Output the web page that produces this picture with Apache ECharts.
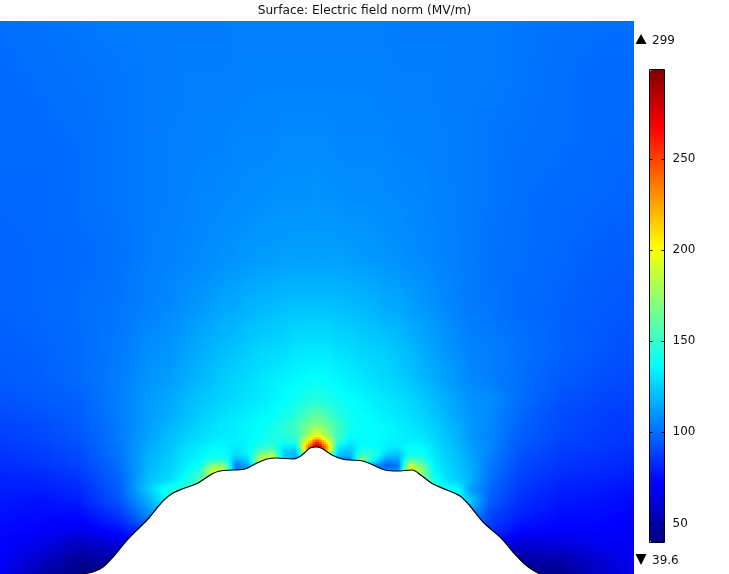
<!DOCTYPE html>
<html>
<head>
<meta charset="utf-8">
<style>html,body{margin:0;padding:0;background:#fff}#c{width:729px;height:574px}</style>
<script src="https://cdn.jsdelivr.net/npm/echarts@6/dist/echarts.min.js"></script>
</head>
<body>
<div id="c"></div>
<script>
const titleText = 'Surface: Electric field norm (MV/m)';
const maxLabel = '299';
const minLabel = '39.6';
const fieldMin = 39.6;
const fieldMax = 299;
const colorTicks = [50, 100, 150, 200, 250];
const jetColors = ['#000080','#0000ff','#0080ff','#00ffff','#80ff80','#ffff00','#ff8000','#ff0000','#800000'];

// sample columns and rows of the field, in plot units
const columnX = [0,40,80,120,150,170,185,200,212,224,236,248,260,272,284,296,308,317,326,338,350,362,374,386,398,410,422,434,446,458,470,490,520,560,600,634];
const rowHeight = [553,494,434,374,314,264,224,194,174,159,149,139,132,126,120,114,108,102,94,84,74,59,44,29,14,0];

const r00 = [100,101,102,103,103,103,103,103,103,103,104,104,104,104,104,104,104,104,104,104,104,104,104,104,103,103,103,103,103,103,103,103,102,101,100,100];
const r01 = [99,100,101,102,103,103,104,104,104,104,104,105,105,105,105,105,105,105,105,105,105,105,105,104,104,104,104,104,103,103,103,103,102,100,99,99];
const r02 = [99,99,100,102,103,104,104,105,105,105,106,106,106,106,107,107,107,107,107,106,106,106,106,106,105,105,105,104,104,103,103,102,101,100,99,98];
const r03 = [98,98,100,102,103,104,105,106,106,107,107,108,108,109,109,109,109,110,109,109,108,108,108,107,107,106,106,105,104,104,103,102,100,99,98,97];
const r04 = [97,98,99,101,104,105,106,107,108,109,110,111,112,112,113,113,113,113,113,113,112,112,111,110,109,108,107,106,105,104,103,101,100,98,96,95];
const r05 = [97,98,100,102,105,107,109,111,113,115,116,118,119,120,121,122,122,122,122,121,120,119,118,116,115,113,111,109,107,105,103,102,99,97,95,94];
const r06 = [96,97,99,103,108,110,113,116,118,120,122,124,126,127,128,130,131,131,131,129,128,126,125,124,122,119,116,113,110,108,105,104,101,97,94,92];
const r07 = [95,96,99,104,110,112,116,119,121,124,126,128,130,132,134,136,137,138,137,135,133,131,129,127,125,122,119,116,113,110,107,104,100,95,92,90];
const r08 = [93,95,97,104,112,115,119,122,124,126,128,130,132,134,137,140,144,146,144,140,137,135,133,131,129,127,124,120,116,113,109,108,100,93,90,88];
const r09 = [91,93,96,104,112,116,120,124,127,129,131,133,135,137,141,146,155,160,155,146,140,137,135,133,131,129,126,122,118,114,110,107,98,91,88,87];
const r10 = [89,91,95,103,113,118,122,126,129,131,133,135,137,141,146,153,166,172,166,151,141,138,136,135,133,131,128,124,120,116,111,107,97,91,88,86];
const r11 = [88,90,94,103,114,120,124,128,130,132,133,135,138,142,146,150,177,197,177,152,138,138,137,136,134,132,130,126,122,117,111,106,96,90,87,85];
const r12 = [87,89,93,103,115,121,126,130,133,134,133,135,141,144,140,145,208,255,208,148,132,136,137,134,133,133,133,128,123,118,112,106,95,89,87,85];
const r13 = [86,88,92,102,116,122,128,132,136,136,131,135,147,152,130,128,240,299,240,130,124,140,140,133,131,138,137,130,124,119,113,106,94,88,86,84];
const r14 = [85,87,91,102,117,123,130,134,138,138,128,135,165,178,122,118,200,250,200,125,118,150,146,126,122,140,140,131,125,120,114,105,93,87,85,83];
const r15 = [84,86,90,101,118,124,131,136,146,146,118,125,185,200,132,110,150,170,150,106,106,178,135,112,112,158,148,132,126,121,115,104,92,86,84,82];
const r16 = [83,85,89,100,119,125,133,140,172,175,100,115,172,182,150,112,120,130,120,102,102,122,110,96,100,192,166,134,127,122,116,103,91,85,83,81];
const r17 = [82,83,87,99,120,126,135,148,190,190,112,112,122,122,122,122,122,122,122,112,112,112,112,112,112,190,175,136,128,123,117,102,90,84,82,80];
const r18 = [80,81,85,98,122,128,140,158,168,172,112,112,122,122,122,122,122,122,122,112,112,112,112,112,112,172,168,145,130,124,118,100,88,82,80,78];
const r19 = [79,79,82,96,125,145,150,150,150,150,120,120,120,120,120,120,120,120,120,120,120,120,120,120,120,150,150,147,140,140,112,98,86,80,78,76];
const r20 = [78,76,80,94,118,140,140,136,140,140,120,120,120,120,120,120,120,120,120,120,120,120,120,120,120,140,140,138,134,130,125,96,84,78,76,74];
const r21 = [76,74,74,86,108,120,125,130,130,130,120,120,120,120,120,120,120,120,120,120,120,120,120,120,120,130,130,130,125,120,110,90,80,75,74,72];
const r22 = [74,72,68,76,90,100,110,110,110,110,110,110,110,110,110,110,110,110,110,110,110,110,110,110,110,110,110,110,110,110,100,85,74,72,72,70];
const r23 = [73,66,55,62,75,90,100,100,100,100,100,100,100,100,100,100,100,100,100,100,100,100,100,100,100,100,100,100,100,100,90,75,60,62,68,70];
const r24 = [71,58,45,50,60,80,90,90,90,90,90,90,90,90,90,90,90,90,90,90,90,90,90,90,90,90,90,90,90,90,80,60,50,50,60,69];
const r25 = [70,50,40,42,50,70,80,80,80,80,80,80,80,80,80,80,80,80,80,80,80,80,80,80,80,80,80,80,80,80,70,50,42,42,58,68];
const fieldRows = [r00,r01,r02,r03,r04,r05,r06,r07,r08,r09,r10,r11,r12,r13,r14,r15,r16,r17,r18,r19,r20,r21,r22,r23,r24,r25];

// outline of the electrode
const outlineX = [80,93,103,113,128,148,163,173,185,198,212,220,233,245,257,267,277,293,302,310,317,323,332,342,350,363,373,385,397,412,422,433,447,460,470,483,502,513,527,540];
const outlineH = [0,2,7,17,35,55,73,81,86,91,100,103,104,105,111,115,116,115,119,126,127,125,119,115,114,113,109,104,103,104,98,90,84,78,68,52,35,22,8,0];

const cells = [];
for (let j = 0; j < rowHeight.length - 1; j++) {
  for (let i = 0; i < columnX.length - 1; i++) {
    cells.push([columnX[i], rowHeight[j], columnX[i+1], rowHeight[j+1],
      fieldRows[j][i], fieldRows[j][i+1], fieldRows[j+1][i], fieldRows[j+1][i+1]]);
  }
}
const outline = outlineX.map((x, k) => [x, outlineH[k]]);

function renderCell(params, api) {
  const a = api.coord([api.value(0), api.value(1)]);
  const b = api.coord([api.value(2), api.value(3)]);
  const v00 = api.value(4), v10 = api.value(5), v01 = api.value(6), v11 = api.value(7);
  const w = b[0] - a[0], h = b[1] - a[1];
  const range = Math.max(v00, v10, v01, v11) - Math.min(v00, v10, v01, v11);
  const sub = range > 10 ? 2 : 3;
  const nx = Math.max(1, Math.round(w / sub)), ny = Math.max(1, Math.round(h / sub));
  const children = [];
  for (let q = 0; q < ny; q++) {
    const y0 = Math.round(a[1] + h * q / ny), y1 = Math.round(a[1] + h * (q + 1) / ny);
    const fy = (q + 0.5) / ny;
    for (let p = 0; p < nx; p++) {
      const x0 = Math.round(a[0] + w * p / nx), x1 = Math.round(a[0] + w * (p + 1) / nx);
      const fx = (p + 0.5) / nx;
      const v = (v00 * (1 - fx) + v10 * fx) * (1 - fy) + (v01 * (1 - fx) + v11 * fx) * fy;
      const t = Math.min(1, Math.max(0, (v - fieldMin) / (fieldMax - fieldMin)));
      children.push({ type: 'rect', shape: { x: x0, y: y0, width: x1 - x0, height: y1 - y0 },
        style: { fill: echarts.color.lerp(t, jetColors) }, silent: true });
    }
  }
  return { type: 'group', children };
}

const chart = echarts.init(document.getElementById('c'), null, { renderer: 'canvas' });
const labelFont = { color: '#111', fontFamily: 'DejaVu Sans', fontSize: 12 };
chart.setOption({
  animation: false,
  backgroundColor: '#fff',
  title: { text: titleText, left: 'center', top: 5, padding: 0,
    textStyle: { color: '#111', fontFamily: 'DejaVu Sans', fontSize: 12.2, fontWeight: 'normal' } },
  grid: [
    { left: 0, top: 21, width: 634, height: 553, show: false },
    { left: 649.5, top: 69.5, width: 15, height: 473, show: true, borderColor: '#000', borderWidth: 1, backgroundColor: 'transparent', z: 6 }
  ],
  xAxis: [
    { type: 'value', gridIndex: 0, min: 0, max: 634, show: false },
    { type: 'value', gridIndex: 1, min: 0, max: 1, show: false }
  ],
  yAxis: [
    { type: 'value', gridIndex: 0, min: 0, max: 553, show: false },
    { type: 'value', gridIndex: 1, position: 'left', min: fieldMin, max: fieldMax, z: 7,
      axisLine: { show: false }, splitLine: { show: false }, axisLabel: { show: false },
      axisTick: { show: true, inside: true, length: 3, customValues: colorTicks, lineStyle: { color: '#000' } } },
    { type: 'value', gridIndex: 1, position: 'right', min: fieldMin, max: fieldMax, z: 7,
      axisLine: { show: false }, splitLine: { show: false },
      axisTick: { show: true, inside: true, length: 3, customValues: colorTicks, lineStyle: { color: '#000' } },
      axisLabel: Object.assign({ show: true, margin: 8, padding: [7, 0, 0, 0], customValues: colorTicks, showMinLabel: true, showMaxLabel: true }, labelFont) }
  ],
  visualMap: {
    type: 'continuous', min: fieldMin, max: fieldMax, seriesIndex: 0, dimension: 4,
    left: 650, top: 69.5, itemWidth: 15, itemHeight: 473, padding: 0, z: 1,
    calculable: false, realtime: false, hoverLink: false, text: null, showLabel: false,
    inRange: { color: jetColors }
  },
  graphic: [
    { type: 'polygon', shape: { points: [[641, 34], [646.5, 44], [635.5, 44]] }, style: { fill: '#000' }, silent: true },
    { type: 'polygon', shape: { points: [[635.5, 554], [646.5, 554], [641, 565]] }, style: { fill: '#000' }, silent: true },
    { type: 'text', left: 652, top: 35, style: { text: maxLabel, font: '12px "DejaVu Sans"', fill: '#111' }, silent: true },
    { type: 'text', left: 652, top: 555, style: { text: minLabel, font: '12px "DejaVu Sans"', fill: '#111' }, silent: true }
  ],
  series: [
    { type: 'custom', name: 'Electric field norm', xAxisIndex: 0, yAxisIndex: 0, data: cells,
      renderItem: renderCell, encode: { x: [0, 2], y: [1, 3] }, clip: true, silent: true, z: 1, progressive: 0 },
    { type: 'line', name: 'Electrode', xAxisIndex: 0, yAxisIndex: 0, data: outline, symbol: 'none', smooth: 0.35,
      lineStyle: { color: '#000', width: 1.2 }, areaStyle: { color: '#fff', opacity: 1 }, z: 3, silent: true }
  ]
});
</script>
</body>
</html>
